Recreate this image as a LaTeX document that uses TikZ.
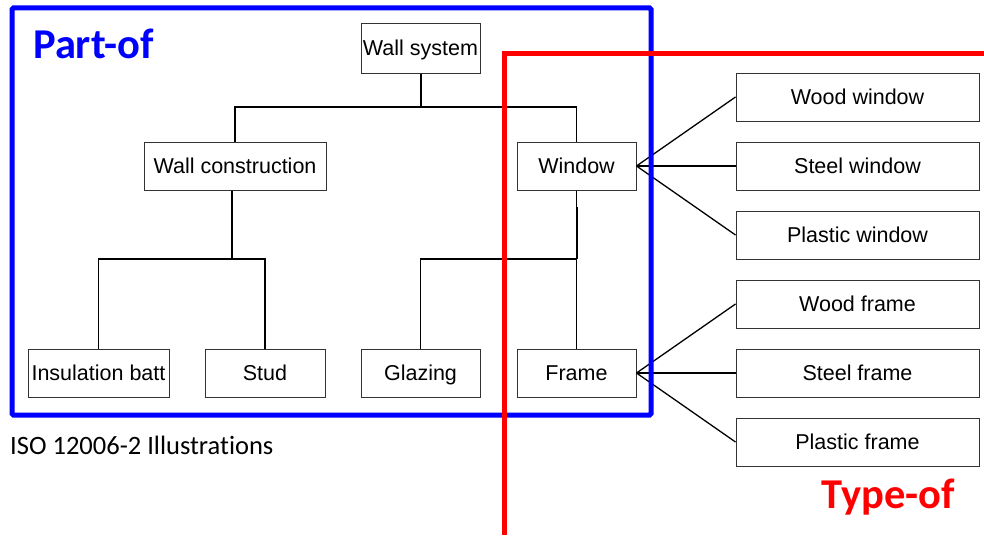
\documentclass[tikz,border=0pt]{standalone}
\usepackage{fontspec}
\setmainfont{Liberation Sans}
\newfontfamily\calfont[Ligatures=NoCommon]{Carlito}
\begin{document}
\begin{tikzpicture}[x=1pt,y=-1pt,
  box/.style={draw=black!80,line width=1pt,fill=white,inner sep=0pt,
    font=\fontsize{21.5}{25}\selectfont,text height=17pt,text depth=3pt},
  small/.style={box,minimum width=119pt,minimum height=48pt},
  wide/.style={box,minimum width=243pt,minimum height=48pt},
  link/.style={draw=black,line width=1.3pt},
  stem/.style={draw=black,line width=2pt},
  group/.style={line width=5pt,rounded corners=1.5pt}]
\useasboundingbox (0,0) rectangle (984,535);
\fill[white] (0,0) rectangle (984,535);

% hierarchy (part-of)
\node[small,minimum height=49pt] (ws) at (420.5,48.5) {Wall system};
\node[box,minimum width=182pt,minimum height=48pt] (wc) at (235,166) {Wall construction};
\node[small] (win) at (576.5,166) {Window};
\node[box,minimum width=141pt,minimum height=48pt] (ib) at (98.5,373) {Insulation batt};
\node[small,minimum width=120pt] (stud) at (265,373) {Stud};
\node[small] (gl) at (420.5,373) {Glazing};
\node[small] (fr) at (576.5,373) {Frame};

% types (type-of)
\node[wide] (ww) at (857.5,97) {Wood window};
\node[wide] (sw) at (857.5,166) {Steel window};
\node[wide] (pw) at (857.5,235) {Plastic window};
\node[wide] (wf) at (857.5,304) {Wood frame};
\node[wide] (sf) at (857.5,373) {Steel frame};
\node[wide] (pf) at (857.5,442) {Plastic frame};

% tree connectors
\coordinate (top) at (420.5,107);
\coordinate (wcb) at (232,259);
\coordinate (winb) at (576.5,259);
\draw[stem] (ws.south) -- (top);
\draw[link] (wc.north) |- (top) -| (win.north);
\draw[link] ([xshift=-3pt]wc.south) -- ([xshift=-3pt]wc.south |- 0,207);
\draw[stem] ([xshift=-3pt]wc.south |- 0,207) -- (wcb);
\draw[link] (ib.north) |- (wcb) -| (stud.north);
\draw[link] (win.south) -- (win.south |- 0,207);
\draw[stem] (win.south |- 0,207) -- (winb);
\draw[link] (gl.north) |- (winb) -- (fr.north);

% type fans
\foreach \t in {ww,sw,pw}{\draw[link] (win.east) -- (\t.west);}
\foreach \t in {wf,sf,pf}{\draw[link] (fr.east) -- (\t.west);}

% grouping frames
\draw[group,draw={rgb,255:red,0;green,0;blue,255}] (12,8) rectangle (651,415);
\draw[line width=5pt,draw={rgb,255:red,255;green,0;blue,0}] (984,54) -- (504,54) -- (504,535);

% labels
\node[anchor=base west,inner sep=0pt,text={rgb,255:red,0;green,0;blue,255},
  font=\calfont\bfseries\fontsize{42.5}{46}\selectfont] (partof) at (33,59) {Part-of};
\node[anchor=base east,inner sep=0pt,text={rgb,255:red,255;green,0;blue,0},
  font=\calfont\bfseries\fontsize{42.5}{46}\selectfont] (typeof) at (955,508) {Type-of};
\node[anchor=base west,inner sep=0pt,
  font=\calfont\fontsize{26.5}{30}\selectfont] (iso) at (10,454) {ISO 12006-2 Illustrations};
\end{tikzpicture}
\end{document}
